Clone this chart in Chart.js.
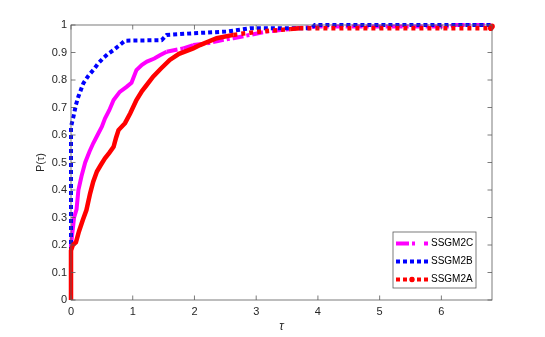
<!DOCTYPE html>
<html>
<head>
<meta charset="utf-8">
<script src="https://cdn.jsdelivr.net/npm/chart.js@4"></script>
<style>html,body{margin:0;padding:0;background:#fff}</style>
</head>
<body>
<canvas id="myChart" width="545" height="337"></canvas>
<script>
/* globals Chart */

// performance profile data
const tauC = [0, 0, 0.02, 0.05, 0.09, 0.12, 0.17, 0.23, 0.3, 0.36, 0.43, 0.5, 0.55, 0.62, 0.69, 0.79, 0.9, 0.98, 1.06, 1.15, 1.23, 1.35, 1.44, 1.55, 1.82, 1.98, 2.2, 2.4, 2.63, 2.9, 3.17, 3.66, 4.0, 6.15, 6.2, 6.82];
const pC = [0, 0.2, 0.24, 0.3, 0.33, 0.4, 0.45, 0.5, 0.54, 0.57, 0.6, 0.63, 0.66, 0.69, 0.727, 0.757, 0.775, 0.79, 0.836, 0.855, 0.867, 0.878, 0.89, 0.903, 0.915, 0.927, 0.933, 0.943, 0.952, 0.964, 0.976, 0.988, 0.995, 0.995, 1.0, 1.0];

const tauB = [0, 0, 0.04, 0.08, 0.12, 0.2, 0.28, 0.36, 0.44, 0.52, 0.6, 0.69, 0.76, 0.82, 0.875, 1.47, 1.55, 1.98, 2.52, 2.9, 3.9, 3.95, 6.82];
const pB = [0, 0.63, 0.667, 0.71, 0.74, 0.788, 0.815, 0.836, 0.86, 0.879, 0.895, 0.909, 0.922, 0.933, 0.943, 0.945, 0.964, 0.97, 0.976, 0.988, 0.988, 1.0, 1.0];

const tauA = [0, 0, 0.03, 0.08, 0.13, 0.19, 0.25, 0.31, 0.36, 0.42, 0.48, 0.55, 0.62, 0.69, 0.73, 0.77, 0.875, 0.96, 1.06, 1.15, 1.22, 1.33, 1.45, 1.6, 1.75, 1.98, 2.09, 2.36, 2.63, 2.9, 3.17, 3.55, 3.7, 6.8, 6.82];
const pA = [0, 0.18, 0.2, 0.21, 0.25, 0.29, 0.327, 0.388, 0.43, 0.467, 0.49, 0.515, 0.535, 0.557, 0.59, 0.618, 0.643, 0.679, 0.727, 0.76, 0.78, 0.812, 0.84, 0.873, 0.895, 0.915, 0.927, 0.952, 0.964, 0.972, 0.978, 0.985, 0.988, 0.988, 0.995];

const seriesNames = ["SSGM2C", "SSGM2B", "SSGM2A"];
const xTicks = [0, 1, 2, 3, 4, 5, 6];
const xMax = 6.82;

const toPts = (xs, ys) => xs.map((x, i) => ({ x: x, y: ys[i] }));
// dense steep parts look solid, long flat parts show the dash pattern
const flatSeg = (c) => {
  const dx = Math.abs(c.p1.x - c.p0.x);
  const dy = Math.abs(c.p1.y - c.p0.y);
  return dx > 12 && dy < dx * 0.35;
};

const axisColor = "#262626";
const font = "'Liberation Sans', Arial, sans-serif";

// box around the plot with inward ticks, like matlab
const boxPlugin = {
  id: "box",
  afterDraw(chart) {
    const { ctx, chartArea: a, scales } = chart;
    ctx.save();
    ctx.strokeStyle = "#5a5a5a";
    ctx.lineWidth = 0.8;
    ctx.strokeRect(a.left, a.top, a.right - a.left, a.bottom - a.top);
    ctx.beginPath();
    scales.x.ticks.forEach((t) => {
      const px = scales.x.getPixelForValue(t.value);
      ctx.moveTo(px, a.bottom);
      ctx.lineTo(px, a.bottom - 4.5);
      ctx.moveTo(px, a.top);
      ctx.lineTo(px, a.top + 4.5);
    });
    scales.y.ticks.forEach((t) => {
      const py = scales.y.getPixelForValue(t.value);
      ctx.moveTo(a.left, py);
      ctx.lineTo(a.left + 4.5, py);
      ctx.moveTo(a.right, py);
      ctx.lineTo(a.right - 4.5, py);
    });
    ctx.stroke();
    ctx.restore();
  },
};

// legend box inside the plot, bottom right
const legendPlugin = {
  id: "boxLegend",
  afterDraw(chart) {
    const { ctx } = chart;
    const x0 = 393, y0 = 232, w = 83, h = 56;
    ctx.save();
    ctx.fillStyle = "#fff";
    ctx.fillRect(x0, y0, w, h);
    ctx.strokeStyle = "#5a5a5a";
    ctx.lineWidth = 0.8;
    ctx.strokeRect(x0, y0, w, h);
    const rows = [243.5, 261.5, 279.5];
    const dashes = [[13, 3, 3, 9], [4, 3], [4, 3]];
    seriesNames.forEach((name, i) => {
      const ds = chart.data.datasets[i];
      const y = rows[i];
      ctx.strokeStyle = ds.borderColor;
      ctx.lineWidth = 4;
      ctx.setLineDash(dashes[i]);
      ctx.beginPath();
      ctx.moveTo(396, y);
      ctx.lineTo(428, y);
      ctx.stroke();
      ctx.setLineDash([]);
      if (i === 2) {
        ctx.fillStyle = ds.borderColor;
        ctx.beginPath();
        ctx.arc(412, y, 2.7, 0, Math.PI * 2);
        ctx.fill();
      }
      ctx.fillStyle = "#000";
      ctx.font = "10px " + font;
      ctx.textBaseline = "middle";
      ctx.fillText(name, 431, y);
    });
    ctx.restore();
  },
};

const ctx = document.getElementById("myChart").getContext("2d");

/* exported myChart */
const myChart = new Chart(ctx, {
  type: "scatter",
  data: {
    datasets: [
      {
        label: seriesNames[0],
        data: toPts(tauC, pC),
        showLine: true,
        borderColor: "#ff00ff",
        borderWidth: 4,
        pointRadius: 0,
        clip: false,
        order: 3,
        segment: {
          borderDash: (c) => (flatSeg(c) ? [11, 3, 3, 3] : []),
        },
      },
      {
        label: seriesNames[1],
        data: toPts(tauB, pB),
        showLine: true,
        borderColor: "#0000ff",
        borderWidth: 4,
        borderDash: [4, 3],
        pointRadius: 0,
        clip: false,
        order: 2,
      },
      {
        label: seriesNames[2],
        data: toPts(tauA, pA),
        showLine: true,
        borderColor: "#ff0000",
        backgroundColor: "#ff0000",
        borderWidth: 4.5,
        pointRadius: (c) => (c.dataIndex < tauA.length - 2 ? 0 : 2.8),
        pointBorderWidth: 0,
        clip: false,
        order: 1,
        segment: {
          borderDash: (c) => (flatSeg(c) && c.p0.x > 230 ? [4, 4] : []),
        },
      },
    ],
  },
  options: {
    responsive: false,
    animation: false,
    layout: { padding: { left: 28, right: 53, top: 25, bottom: 0 } },
    scales: {
      x: {
        type: "linear",
        min: 0,
        max: xMax,
        afterBuildTicks: (s) => {
          s.ticks = xTicks.map((v) => ({ value: v }));
        },
        afterFit: (s) => {
          s.height = 37;
        },
        grid: { display: false, drawTicks: false },
        border: { display: false },
        ticks: {
          padding: 5,
          color: axisColor,
          font: { family: font, size: 11 },
        },
        title: {
          display: true,
          text: "τ",
          color: axisColor,
          padding: { top: 0, bottom: 3 },
          font: { family: font, size: 12, style: "italic" },
        },
      },
      y: {
        min: 0,
        max: 1,
        afterFit: (s) => {
          s.width = 43;
        },
        grid: { display: false, drawTicks: false },
        border: { display: false },
        ticks: {
          stepSize: 0.1,
          padding: 4,
          color: axisColor,
          font: { family: font, size: 11 },
          callback: (v) => String(Math.round(v * 10) / 10),
        },
        title: {
          display: true,
          text: "P(τ)",
          color: axisColor,
          padding: { top: 6, bottom: 0 },
          font: { family: font, size: 11 },
        },
      },
    },
    plugins: {
      legend: { display: false },
      tooltip: { enabled: false },
    },
  },
  plugins: [boxPlugin, legendPlugin],
});
</script>
</body>
</html>
